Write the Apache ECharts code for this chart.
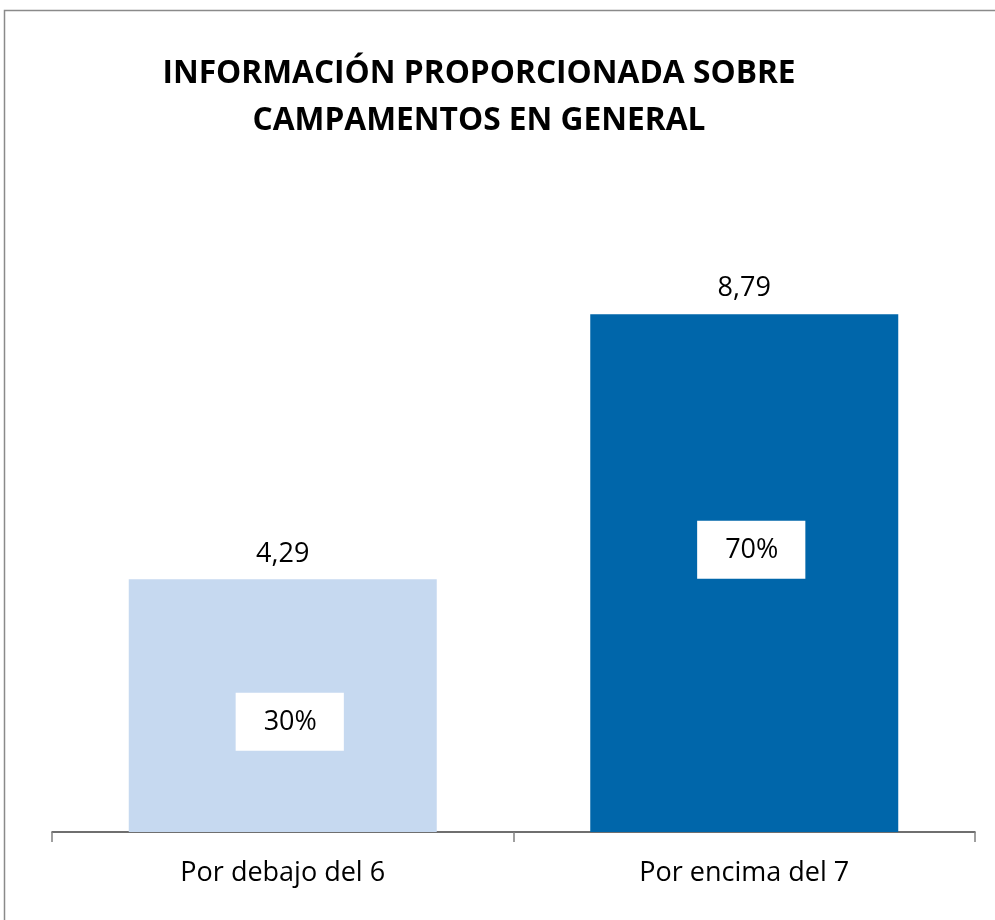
<!DOCTYPE html>
<html>
<head>
<meta charset="utf-8">
<script src="https://cdn.jsdelivr.net/npm/echarts@6/dist/echarts.min.js"></script>
<style>
html, body { margin: 0; padding: 0; background: #fff; }
#main { width: 995px; height: 920px; }
</style>
</head>
<body>
<div id="main"></div>
<script>
var categories = ['Por debajo del 6', 'Por encima del 7'];
var scores = [4.29, 8.79];
var barColors = ['#C6D9F0', '#0066AA'];
var shareLabels = ['30%', '70%'];
var shareLevels = [1.87, 4.79];

var myChart = echarts.init(document.getElementById('main'));
var font = 'Open Sans';

option = {
    backgroundColor: '#fff',
    title: {
        text: 'INFORMACIÓN PROPORCIONADA SOBRE\nCAMPAMENTOS EN GENERAL',
        left: 474,
        textAlign: 'center',
        top: 45,
        textStyle: {
            fontFamily: font,
            fontWeight: 'bold',
            fontSize: 31.7,
            lineHeight: 47,
            color: '#000'
        }
    },
    graphic: [{
        type: 'rect',
        shape: { x: 4.5, y: 10.5, width: 1100, height: 1000 },
        style: { fill: 'none', stroke: '#8a8a8a', lineWidth: 1.5 },
        silent: true
    }],
    grid: {
        left: 52,
        right: 20,
        top: 243,
        bottom: 88
    },
    xAxis: {
        type: 'category',
        data: categories,
        axisLine: { lineStyle: { color: '#404040', width: 1.5 } },
        axisTick: { show: true, length: 10, lineStyle: { color: '#808080', width: 1.5 } },
        axisLabel: {
            fontFamily: font,
            fontSize: 27,
            color: '#000',
            margin: 28
        }
    },
    yAxis: {
        type: 'value',
        min: 0,
        max: 10,
        show: false,
        splitLine: { show: false }
    },
    series: [
        {
            name: 'Nota',
            type: 'bar',
            barWidth: 308,
            data: scores.map(function (v, i) {
                return { value: v, itemStyle: { color: barColors[i] } };
            }),
            label: {
                show: true,
                position: 'top',
                distance: 12,
                fontFamily: font,
                fontSize: 27,
                color: '#000',
                formatter: function (p) {
                    return p.value.toFixed(2).replace('.', ',');
                }
            },
            z: 2
        },
        {
            name: 'Porcentaje',
            type: 'scatter',
            symbolSize: 0,
            itemStyle: { opacity: 1 },
            data: shareLevels.map(function (v, i) {
                return { value: v, name: shareLabels[i] };
            }),
            label: {
                show: true,
                position: 'inside',
                offset: [7, 0],
                opacity: 1,
                fontFamily: font,
                fontSize: 27,
                lineHeight: 28,
                color: '#000',
                backgroundColor: '#fff',
                padding: [15, 27, 15, 28],
                formatter: function (p) { return p.name; }
            },
            emphasis: { disabled: true },
            z: 3
        }
    ]
};
myChart.setOption(option);
</script>
</body>
</html>
